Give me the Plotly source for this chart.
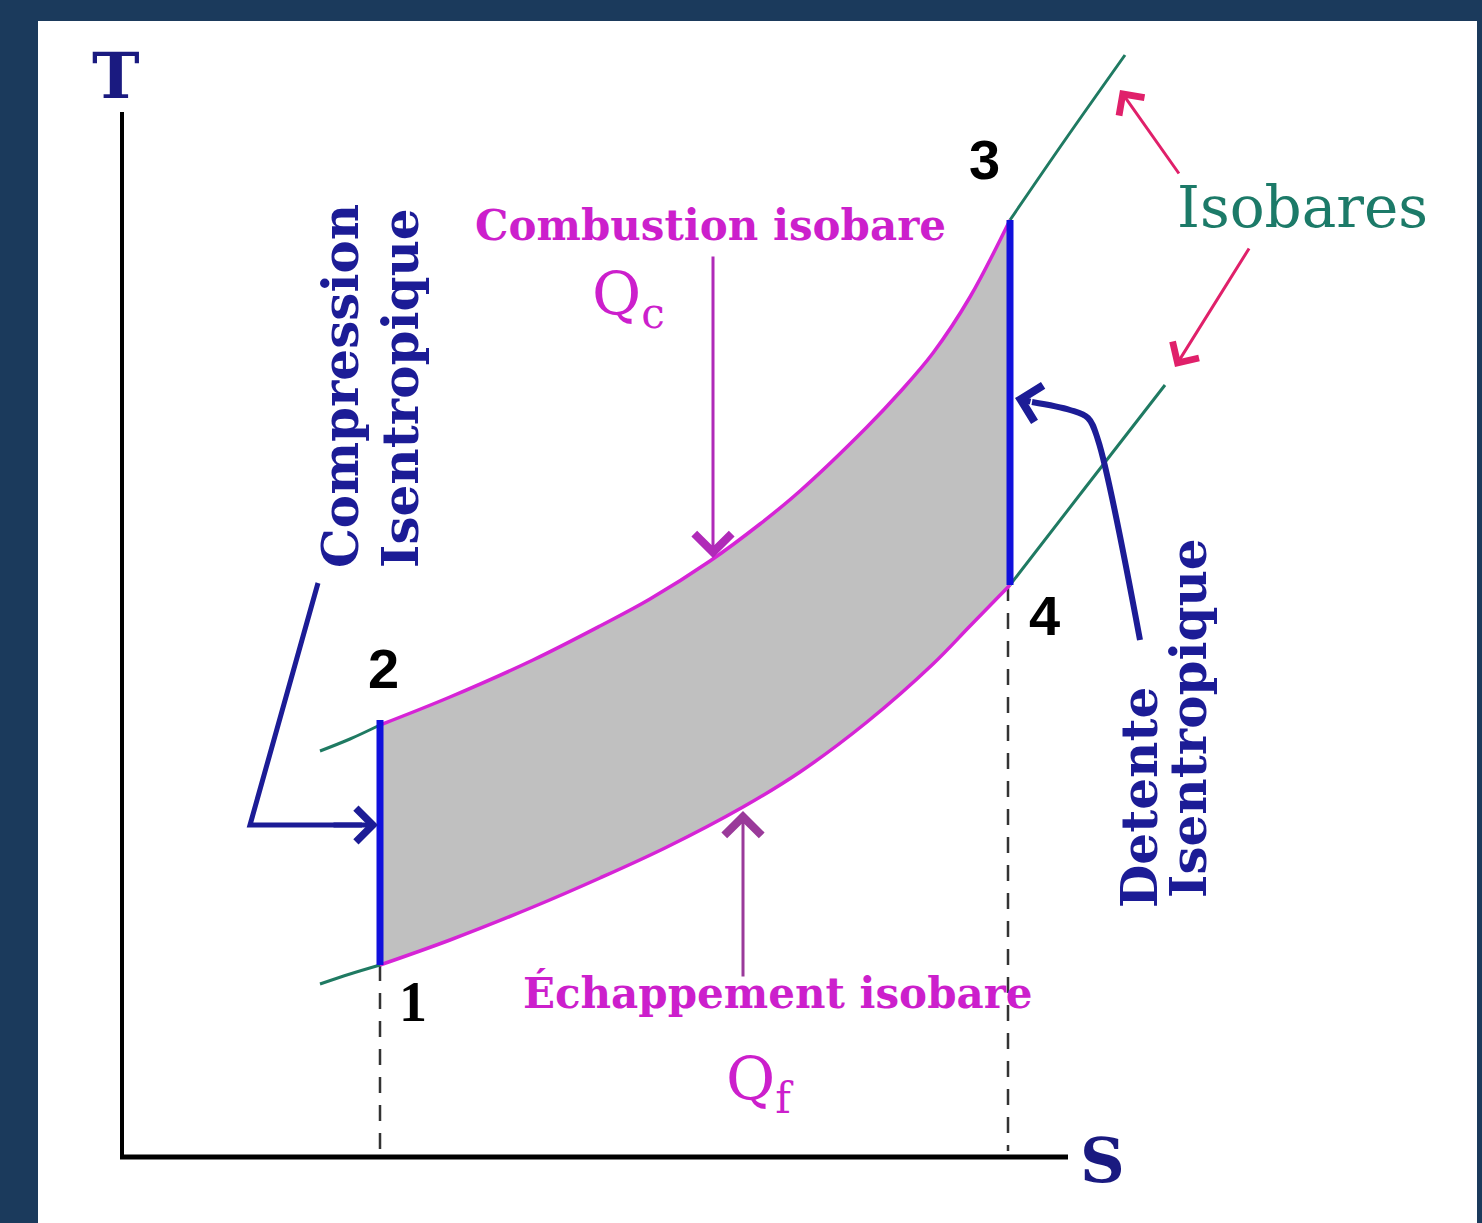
import plotly.graph_objects as go

# ---------------- data (S, T in arbitrary units, origin at axes corner) -------------
# cycle points
pt_labels = ["1", "2", "3", "4"]
pt_S = [2.58, 2.58, 8.88, 8.88]
pt_T = [1.92, 4.32, 9.37, 5.72]

# upper isobar (combustion) from 2 to 3
up_S = [2.58, 3.28, 4.11, 4.78, 5.28, 5.88, 6.38, 6.78, 7.45, 7.78, 8.11, 8.48, 8.88]
up_T = [4.32, 4.60, 4.97, 5.31, 5.58, 5.96, 6.33, 6.66, 7.30, 7.65, 8.04, 8.60, 9.37]

# lower isobar (exhaust) from 1 to 4
lo_S = [2.58, 3.28, 4.11, 4.78, 5.45, 6.21, 6.78, 7.45, 8.11, 8.48, 8.88]
lo_T = [1.92, 2.17, 2.50, 2.79, 3.10, 3.50, 3.85, 4.35, 4.93, 5.31, 5.72]

# isobar extensions (green)
iso_up_left_S = [1.98, 2.28, 2.58]
iso_up_left_T = [4.06, 4.18, 4.32]
iso_up_right_S = [8.88, 9.43, 10.03]
iso_up_right_T = [9.37, 10.17, 11.02]
iso_lo_left_S = [1.98, 2.28, 2.58]
iso_lo_left_T = [1.73, 1.83, 1.92]
iso_lo_right_S = [8.88, 9.63, 10.43]
iso_lo_right_T = [5.72, 6.69, 7.72]

# axes extents
axis_S_max = 9.46
axis_T_max = 10.45
dash_bottom = 0.06

# bent leader arrows
comp_S = [1.96, 1.28, 2.40]
comp_T = [5.74, 3.32, 3.32]
comp_tip = (2.56, 3.32)
det_S = [10.18, 9.76, 9.66, 9.48, 9.10]
det_T = [5.17, 7.17, 7.39, 7.47, 7.55]
det_tip = (8.93, 7.59)

# straight arrows (tail S, tail T, tip S, tip T)
qc_arrow = (5.91, 9.02, 5.91, 5.99)
qf_arrow = (6.21, 1.79, 6.21, 3.46)
iso_arrow1 = (10.58, 9.82, 9.98, 10.67)
iso_arrow2 = (11.28, 9.10, 10.53, 7.90)

# text labels
label_pos = {"1": (2.91, 1.55), "2": (2.61, 4.89), "3": (8.62, 9.98), "4": (9.22, 5.42)}

# ---------------- colours ---------------------------------------------------
NAVY = "#1c1c96"
BLUE = "#1010dc"
MAG = "#d624d6"
MAG_TXT = "#cc1fcc"
GREEN = "#1f7a62"
PINK = "#e0206a"
GRAY = "#c0c0c0"
BG = "#1b3a5c"

fig = go.Figure()

# dashed verticals
for s, t in [(pt_S[0], pt_T[0]), (pt_S[3] - 0.02, pt_T[3])]:
    fig.add_trace(go.Scatter(x=[s, s], y=[t, dash_bottom], mode="lines",
                             line=dict(color="#333333", width=2.5, dash="16px,12px"),
                             hoverinfo="skip", showlegend=False))

# green isobars
for xs, ys in [(iso_up_left_S, iso_up_left_T), (iso_up_right_S, iso_up_right_T),
               (iso_lo_left_S, iso_lo_left_T), (iso_lo_right_S, iso_lo_right_T)]:
    fig.add_trace(go.Scatter(x=xs, y=ys, mode="lines", line=dict(color=GREEN, width=3, shape="spline"),
                             hoverinfo="skip", showlegend=False))

# magenta isobars of the cycle, grey work area filled between them
fig.add_trace(go.Scatter(x=lo_S, y=lo_T, mode="lines", line=dict(color=MAG, width=3.5, shape="spline"),
                         hoverinfo="skip", showlegend=False))
fig.add_trace(go.Scatter(x=up_S, y=up_T, mode="lines", line=dict(color=MAG, width=3.5, shape="spline"),
                         fill="tonexty", fillcolor=GRAY, hoverinfo="skip", showlegend=False))

# isentropic blue lines
fig.add_trace(go.Scatter(x=[pt_S[0], pt_S[1]], y=[pt_T[0], pt_T[1] + 0.05], mode="lines",
                         line=dict(color=BLUE, width=7), hoverinfo="skip", showlegend=False))
fig.add_trace(go.Scatter(x=[pt_S[2], pt_S[3]], y=[pt_T[2], pt_T[3]], mode="lines",
                         line=dict(color=BLUE, width=7), hoverinfo="skip", showlegend=False))

# axes
fig.add_trace(go.Scatter(x=[0, 0], y=[axis_T_max, 0], mode="lines",
                         line=dict(color="black", width=4), hoverinfo="skip", showlegend=False))
fig.add_trace(go.Scatter(x=[-0.02, axis_S_max], y=[0, 0], mode="lines",
                         line=dict(color="black", width=5), hoverinfo="skip", showlegend=False))

# bent leader lines
fig.add_trace(go.Scatter(x=comp_S, y=comp_T, mode="lines", line=dict(color=NAVY, width=5),
                         hoverinfo="skip", showlegend=False))
fig.add_trace(go.Scatter(x=det_S, y=det_T, mode="lines", line=dict(color=NAVY, width=6, shape="spline"),
                         hoverinfo="skip", showlegend=False))

annotations = []


def arrow(tail_s, tail_t, tip_s, tip_t, color, width, size=1.0, head=4):
    annotations.append(dict(x=tip_s, y=tip_t, ax=tail_s, ay=tail_t, xref="x", yref="y",
                            axref="x", ayref="y", text="", showarrow=True, arrowhead=head,
                            arrowsize=size, arrowwidth=width, arrowcolor=color, standoff=0))


arrow(comp_S[-1] - 0.3, comp_T[-1], comp_tip[0], comp_tip[1], NAVY, 5, 1.3)
arrow(det_S[-1], det_T[-1], det_tip[0], det_tip[1], NAVY, 6, 1.2)
arrow(*qc_arrow, "#b02ab8", 3, 2.4)
arrow(*qf_arrow, "#9a3a9a", 3, 2.4)
arrow(*iso_arrow1, PINK, 3, 2.0)
arrow(*iso_arrow2, PINK, 3, 2.0)


def text(s, t, txt, size, color, family="DejaVu Serif", weight="bold", angle=0):
    annotations.append(dict(x=s, y=t, xref="x", yref="y", text=txt, showarrow=False,
                            textangle=angle, xanchor="center", yanchor="middle",
                            font=dict(family=family, size=size, color=color, weight=weight)))


text(-0.06, 10.82, "T", 64, "#1a1a80")
text(9.80, -0.03, "S", 62, "#1a1a80")
text(*label_pos["1"], "1", 56, "black", family="Liberation Serif")
text(*label_pos["2"], "2", 56, "black", family="Liberation Sans")
text(*label_pos["3"], "3", 56, "black", family="Liberation Sans")
text(*label_pos["4"], "4", 56, "black", family="Liberation Sans")
text(5.88, 9.32, "Combustion isobare", 42, MAG_TXT)
text(5.06, 8.59, "Q<sub>c</sub>", 60, MAG_TXT, weight="normal")
text(6.56, 1.64, "Échappement isobare", 42, MAG_TXT)
text(6.38, 0.74, "Q<sub>f</sub>", 60, MAG_TXT, weight="normal")
text(11.80, 9.50, "Isobares", 58, "#1c7a68", weight="normal")
text(2.18, 7.71, "Compression", 50, NAVY, angle=-90)
text(2.78, 7.69, "Isentropique", 50, NAVY, angle=-90)
text(10.17, 3.59, "Detente", 50, NAVY, angle=-90)
text(10.66, 4.39, "Isentropique", 50, NAVY, angle=-90)

fig.update_layout(
    width=1482, height=1223,
    margin=dict(l=0, r=0, t=0, b=0),
    paper_bgcolor=BG, plot_bgcolor=BG,
    xaxis=dict(range=[-1.22, 13.60], visible=False, fixedrange=True),
    yaxis=dict(range=[-0.66, 11.57], visible=False, fixedrange=True),
    annotations=annotations,
    shapes=[dict(type="rect", xref="paper", yref="paper", x0=38 / 1482, x1=1477 / 1482,
                 y0=0, y1=1 - 21 / 1223, fillcolor="white", line=dict(width=0), layer="below")],
    showlegend=False,
)

fig.write_html("out.html", config={"displayModeBar": False},
               post_script="document.body.style.margin='0';document.body.style.overflow='hidden';")
